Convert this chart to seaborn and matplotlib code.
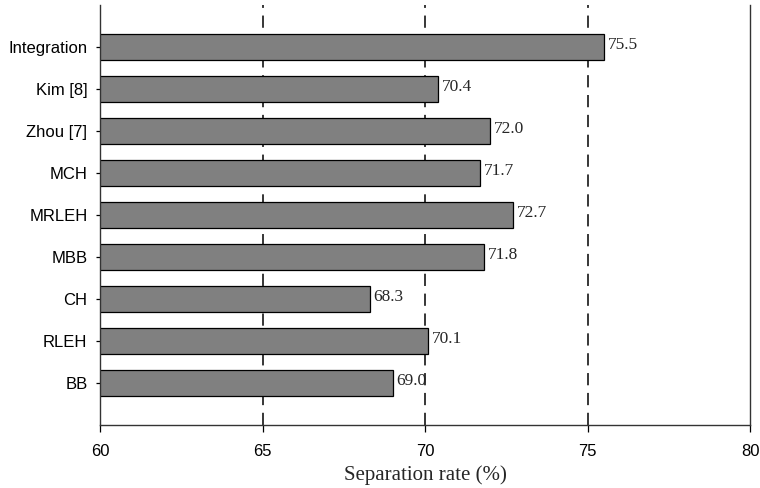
import numpy as np
import matplotlib
matplotlib.use('Agg')
import matplotlib.pyplot as plt
import seaborn as sns
import pandas as pd

methods = ['Integration', 'Kim [8]', 'Zhou [7]', 'MCH', 'MRLEH', 'MBB', 'CH', 'RLEH', 'BB']
rates = [75.5, 70.4, 72.0, 71.7, 72.7, 71.8, 68.3, 70.1, 69.0]
xticks = [60, 65, 70, 75, 80]

sns.set_style('ticks')
plt.rcParams['font.family'] = ['Liberation Sans', 'DejaVu Sans']

df = pd.DataFrame({'method': methods, 'rate': rates})

fig = plt.figure(figsize=(7.6, 4.88), dpi=100)
ax = fig.add_axes([100 / 760, 1 - 425 / 488, 650 / 760, 420 / 488])

# dashed reference lines behind the bars
for x in xticks[1:-1]:
    ax.axvline(x, color='black', linestyle=(0, (8, 5)), linewidth=1.1, zorder=0)

sns.barplot(data=df, x='rate', y='method', orient='h', color='#808080',
            saturation=1, edgecolor='black', linewidth=0.9, width=0.6, ax=ax, zorder=2)

for i, v in enumerate(rates):
    ax.text(v + 0.12, i - 0.05, f'{v:.1f}', va='center', ha='left',
            fontsize=12.5, family='Liberation Serif', zorder=3)

ax.set_xlim(60, 80)
ax.set_ylim(9, -1)
ax.set_xticks(xticks)
ax.set_xlabel('Separation rate (%)', family='Liberation Serif', fontsize=15, labelpad=4)
ax.set_ylabel('')
ax.tick_params(axis='both', labelsize=12, width=0.9, colors='black')
ax.tick_params(axis='x', length=5, pad=9)
ax.tick_params(axis='y', length=3, pad=6)
for s in ax.spines.values():
    s.set_linewidth(1.0)
    s.set_color('#333333')
ax.spines['top'].set_visible(False)

plt.savefig('out.png', dpi=100)
plt.close()
